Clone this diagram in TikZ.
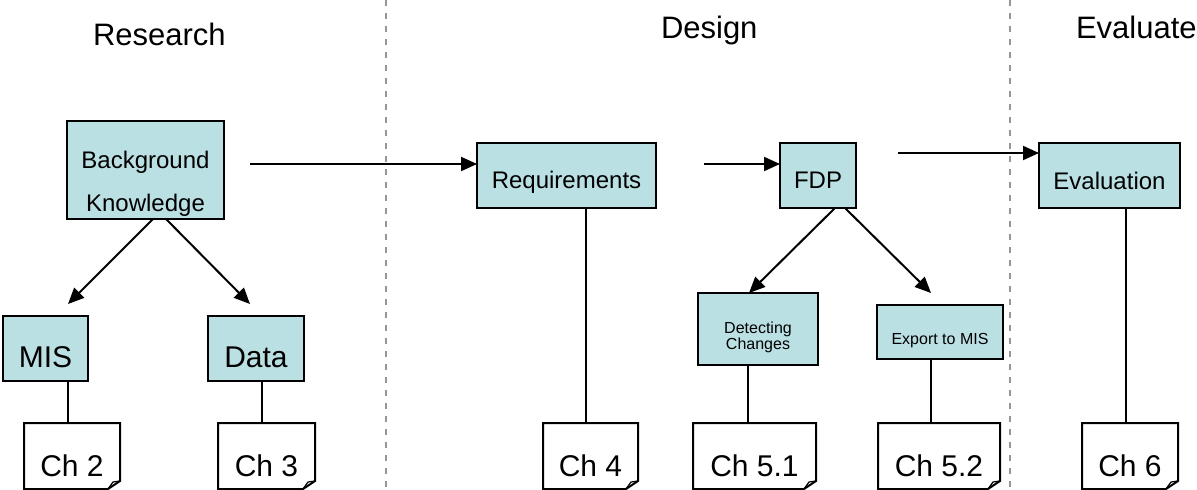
\documentclass[tikz,border=0pt]{standalone}
\usepackage{fontspec}
\setmainfont{Liberation Sans}
\usetikzlibrary{arrows.meta}
\definecolor{boxfill}{RGB}{187,224,227}
\definecolor{phaseline}{RGB}{150,150,150}

\begin{document}
\begin{tikzpicture}[x=1pt,y=-1pt,
  every node/.style={inner sep=0pt, outer sep=0pt},
  stepbox/.style={draw=black, line width=2pt, fill=boxfill, text depth=0pt},
  docbox/.style={minimum width=#1, minimum height=66pt, text height=41.5pt,
    text depth=0pt, font=\fontsize{30}{36}\selectfont},
  link/.style={line width=2pt},
  arrow/.style={link, -{Triangle[length=16pt,width=14pt]}},
  phase/.style={draw=phaseline, line width=1.5pt, dash pattern=on 6pt off 7pt},
  heading/.style={anchor=base west, font=\fontsize{31}{36}\selectfont}
]
\useasboundingbox (0,0) rectangle (1197,490);
\fill[white] (0,0) rectangle (1197,490);

% phase separators
\coordinate (p1t) at (386,0);  \coordinate (p1b) at (386,490);
\coordinate (p2t) at (1010,0); \coordinate (p2b) at (1010,490);
\draw[phase] (p1t) -- (p1b);
\draw[phase] (p2t) -- (p2b);

% phase headings
\node[heading] (hres) at (93,45) {Research};
\node[heading] (hdes) at (661,38) {Design};
\node[heading] (heva) at (1076,38) {Evaluate};

% process boxes
\node[stepbox, minimum width=157pt, minimum height=98pt,
  font=\fontsize{24}{43}\selectfont, text height=39.2pt, text depth=43pt]
  (bk) at (145.5,170) {\begin{tabular}[t]{@{}c@{}}Background\\Knowledge\end{tabular}};
\node[stepbox, minimum width=85pt, minimum height=65pt,
  font=\fontsize{30}{36}\selectfont, text height=38.5pt] (mis) at (45.5,348.5) {MIS};
\node[stepbox, minimum width=96pt, minimum height=65pt,
  font=\fontsize{30}{36}\selectfont, text height=38.5pt] (data) at (256,348.5) {Data};
\node[stepbox, minimum width=179pt, minimum height=65pt,
  font=\fontsize{24}{29}\selectfont, text height=26.2pt] (req) at (566.5,175.5) {Requirements};
\node[stepbox, minimum width=76pt, minimum height=65pt,
  font=\fontsize{24}{29}\selectfont, text height=26.2pt] (fdp) at (818,175.5) {FDP};
\node[stepbox, minimum width=141pt, minimum height=65pt,
  font=\fontsize{24}{29}\selectfont, text height=27.2pt] (evl) at (1109.5,175.5) {Evaluation};
\node[stepbox, minimum width=120pt, minimum height=72pt,
  font=\fontsize{16}{16}\selectfont, text height=24.9pt, text depth=16pt]
  (det) at (758,329) {\begin{tabular}[t]{@{}c@{}}Detecting\\Changes\end{tabular}};
\node[stepbox, minimum width=126pt, minimum height=54pt,
  font=\fontsize{16}{19}\selectfont, text height=25.1pt] (exp) at (940,332) {Export to MIS};

% chapter documents
\node[docbox=96pt]  (c2)  at (72,456)    {Ch 2};
\node[docbox=97pt]  (c3)  at (266.5,456) {Ch 3};
\node[docbox=95pt]  (c4)  at (590.5,456) {Ch 4};
\node[docbox=123pt] (c51) at (754.5,456) {Ch 5.1};
\node[docbox=122pt] (c52) at (939,456)   {Ch 5.2};
\node[docbox=96pt]  (c6)  at (1130,456)  {Ch 6};
\foreach \d in {c2,c3,c4,c51,c52,c6}{
  \draw[link] (\d.north west) -- (\d.north east) -- ([yshift=8pt]\d.south east)
    -- ([xshift=-12pt]\d.south east) -- (\d.south west) -- cycle;
  \draw[line width=1.2pt] ([xshift=-12pt]\d.south east)
    -- ([xshift=-7pt,yshift=7pt]\d.south east) -- ([yshift=8pt]\d.south east);
}

% flow arrows
\coordinate (bkout) at (250,164);
\coordinate (reqout) at (704,164);
\coordinate (fdpout) at (898,153);
\draw[arrow] (bkout) -- ([yshift=11.5pt]req.west);
\draw[arrow] (reqout) -- ([yshift=11.5pt]fdp.west);
\draw[arrow] (fdpout) -- ([yshift=22.5pt]evl.west);

\coordinate (toMIS) at (68,304);
\coordinate (toData) at (250,304);
\coordinate (toExp) at (931,293);
\draw[arrow] ([xshift=7.5pt]bk.south) -- (toMIS);
\draw[arrow] ([xshift=20.5pt]bk.south) -- (toData);
\draw[arrow] ([xshift=17pt]fdp.south) -- ([xshift=-9pt]det.north);
\draw[arrow] ([xshift=27pt]fdp.south) -- (toExp);

% links to chapters
\coordinate (v1) at (68,0);
\coordinate (v2) at (262,0);
\coordinate (v3) at (586,0);
\coordinate (v4) at (748,0);
\coordinate (v5) at (931,0);
\coordinate (v6) at (1126,0);
\draw[link] (mis.south -| v1) -- (c2.north -| v1);
\draw[link] (data.south -| v2) -- (c3.north -| v2);
\draw[link] (req.south -| v3) -- (c4.north -| v3);
\draw[link] (det.south -| v4) -- (c51.north -| v4);
\draw[link] (exp.south -| v5) -- (c52.north -| v5);
\draw[link] (evl.south -| v6) -- (c6.north -| v6);
\end{tikzpicture}
\end{document}
